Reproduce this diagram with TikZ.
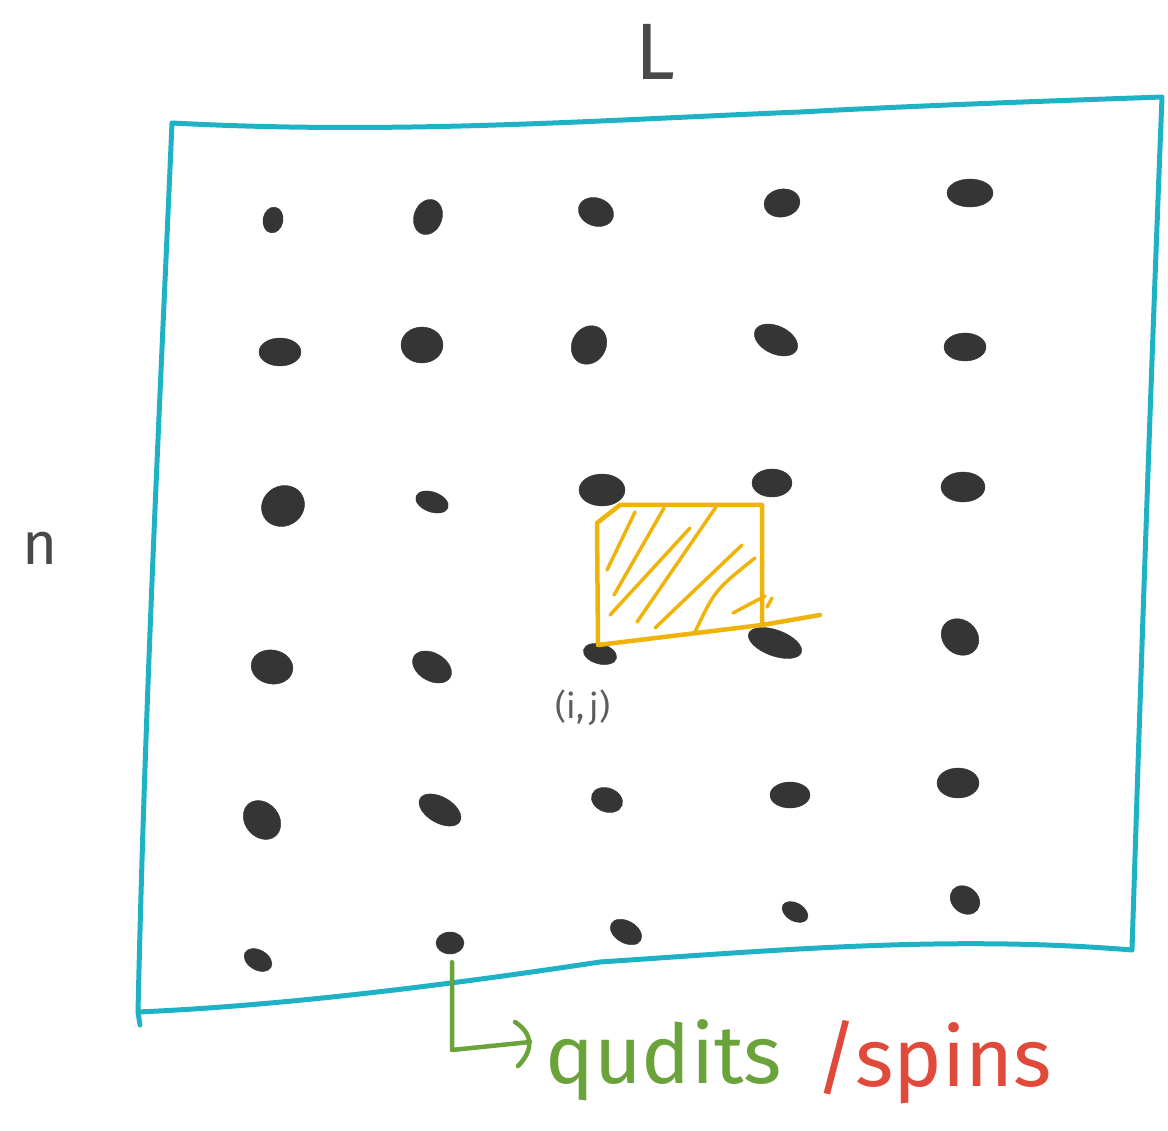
\documentclass[tikz,border=0pt]{standalone}
\usepackage{fontspec}
\setmainfont{Fira Sans}
\usetikzlibrary{shapes.geometric}
\definecolor{frameblue}{HTML}{1FB2C5}
\definecolor{dotgrey}{HTML}{353535}
\definecolor{hatchyellow}{HTML}{F0B30A}
\definecolor{qgreen}{HTML}{6AA33A}
\definecolor{sred}{HTML}{E04A3A}
\tikzset{
  dot/.style={ellipse, fill=dotgrey, draw=dotgrey, inner sep=0pt, minimum width=36pt, minimum height=28pt},
  sdot/.style={dot, minimum width=26pt, minimum height=20pt},
  pen/.style={line cap=round, line join=round},
}
\begin{document}
\begin{tikzpicture}[x=1pt,y=-1pt]
\useasboundingbox (0,0) rectangle (1168,1131);
% frame
\draw[pen, frameblue, line width=5pt]
  (172,123) .. controls (400,135) and (600,120) .. (800,112)
  .. controls (950,104) and (1080,100) .. (1162,97)
  .. controls (1150,400) and (1140,700) .. (1132,950)
  .. controls (950,935) and (780,950) .. (600,962)
  .. controls (480,980) and (300,1005) .. (138,1012)
  -- (140,1025)
  (138,1012) .. controls (145,700) and (160,400) .. (172,123)
  (1132,950) -- (1132,940);
% dots
\node[sdot, rotate=80] (d11) at (273,220) {};
\node[dot, rotate=70] (d12) at (428,217) {};
\node[dot, rotate=-20] (d13) at (596,212) {};
\node[dot, rotate=10] (d14) at (782,203) {};
\node[dot, minimum width=46pt] (d15) at (970,193) {};
\node[dot, minimum width=42pt] (d21) at (280,352) {};
\node[dot, minimum width=42pt, minimum height=36pt] (d22) at (422,345) {};
\node[dot, minimum width=40pt, minimum height=34pt, rotate=60] (d23) at (589,345) {};
\node[dot, minimum width=46pt, rotate=-25] (d24) at (776,340) {};
\node[dot, minimum width=42pt] (d25) at (965,347) {};
\node[dot, minimum width=44pt, minimum height=40pt, rotate=30] (d31) at (283,506) {};
\node[sdot, minimum width=34pt, rotate=-20] (d32) at (432,502) {};
\node[dot, minimum width=46pt, minimum height=32pt] (d33) at (602,490) {};
\node[dot, minimum width=40pt] (d34) at (772,483) {};
\node[dot, minimum width=44pt, minimum height=30pt] (d35) at (963,487) {};
\node[dot, minimum width=42pt, minimum height=34pt, rotate=-10] (d41) at (272,667) {};
\node[dot, minimum width=42pt, rotate=-30] (d42) at (432,667) {};
\node[sdot, minimum width=34pt, rotate=-15] (d43) at (600,654) {};
\node[dot, minimum width=56pt, minimum height=26pt, rotate=-20] (d44) at (775,643) {};
\node[dot, minimum width=40pt, minimum height=34pt, rotate=-40] (d45) at (960,637) {};
\node[dot, minimum width=42pt, minimum height=34pt, rotate=-50] (d51) at (262,820) {};
\node[dot, minimum width=46pt, minimum height=26pt, rotate=-30] (d52) at (440,810) {};
\node[sdot, minimum width=32pt, minimum height=24pt, rotate=-20] (d53) at (607,800) {};
\node[dot, minimum width=40pt, minimum height=26pt] (d54) at (790,795) {};
\node[dot, minimum width=42pt, minimum height=30pt] (d55) at (958,783) {};
\node[sdot, minimum width=30pt, minimum height=20pt, rotate=-30] (d61) at (258,960) {};
\node[sdot, minimum width=28pt, minimum height=22pt] (d62) at (450,943) {};
\node[sdot, minimum width=34pt, minimum height=22pt, rotate=-30] (d63) at (626,932) {};
\node[sdot, minimum width=28pt, minimum height=18pt, rotate=-30] (d64) at (795,912) {};
\node[sdot, minimum width=32pt, minimum height=26pt, rotate=-40] (d65) at (965,900) {};
% yellow plaquette
\draw[pen, hatchyellow, line width=4.5pt]
  (598,645) -- (597,523) -- (620,505) -- (762,505) -- (762,625) -- cycle
  (762,625) -- (820,615);
\begin{scope}[pen, hatchyellow, line width=3.5pt]
\draw (607,570) -- (635,512);
\draw (614,595) -- (664,508);
\draw (610,615) -- (690,528);
\draw (637,622) -- (716,507);
\draw (655,628) -- (742,545);
\draw (695,632) .. controls (715,590) .. (755,558);
\draw (733,613) -- (765,596);
\draw (767,607) -- (772,598);
\end{scope}
% labels
\node[text=dotgrey!80, font=\fontsize{34}{36}\selectfont] (lab) at (583,708) {(i,\,j)};
\node[text=dotgrey!90, font=\fontsize{80}{90}\selectfont] (L) at (655,52) {L};
\node[text=dotgrey!90, font=\fontsize{60}{70}\selectfont] (n) at (40,548) {n};
% green arrow
\coordinate (bend) at (452,1050);
\coordinate (tip) at (530,1042);
\node[anchor=west, text=qgreen, font=\fontsize{82}{90}\selectfont, inner sep=0pt] (qd) at (545,1060) {qudits};
\node[anchor=west, text=sred, font=\fontsize{82}{90}\selectfont, inner sep=0pt] (sp) at (815,1062) {/spins};
\draw[pen, qgreen, line width=4.5pt] (d62.south) ++(2,8) -- (bend) -- (tip);
\draw[pen, qgreen, line width=4.5pt] (515,1022) .. controls (535,1035) and (532,1052) .. (518,1066);
\end{tikzpicture}
\end{document}
